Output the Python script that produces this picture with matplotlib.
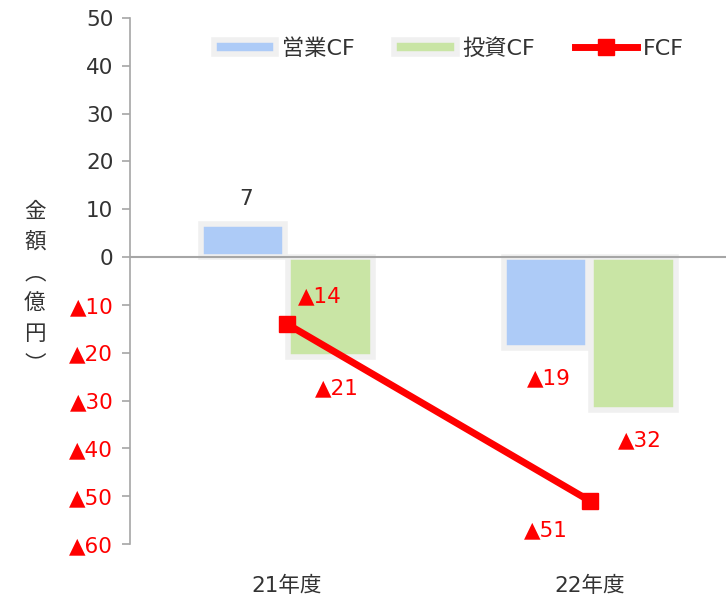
import matplotlib
matplotlib.use("Agg")
import matplotlib.pyplot as plt
import numpy as np

plt.rcParams['font.family'] = ['DejaVu Sans', 'Noto Sans CJK JP']

years = ["21年度", "22年度"]
eigyo_cf = [7, -19]
toshi_cf = [-21, -32]
fcf = [-14, -51]
yticks = [50, 40, 30, 20, 10, 0, -10, -20, -30, -40, -50, -60]


def fmt(v):
    return f"▲{abs(v)}" if v < 0 else f"{v}"


fig = plt.figure(figsize=(7.26, 5.95), dpi=100)
ax = fig.add_axes([0.179, 0.0857, 0.821, 0.8843])

x = np.arange(len(years))
w = 0.28
off = 0.145
edge = '#f0f0f0'
ax.bar(x - off, eigyo_cf, w, color='#adcbf7', edgecolor=edge, linewidth=4, label='営業CF', zorder=2)
ax.bar(x + off, toshi_cf, w, color='#c9e5a5', edgecolor=edge, linewidth=4, label='投資CF', zorder=2)
ax.plot(x, fcf, color='#ff0000', lw=5, marker='s', markersize=11, label='FCF', zorder=4)

ax.axhline(0, color='#a6a6a6', lw=1.5, zorder=3)

fs = 15.5
# data labels
for i, v in enumerate(eigyo_cf):
    dy = 18 if v > 0 else -22
    col = '#333333' if v > 0 else '#ff0000'
    ax.annotate(fmt(v), (x[i] - off, v), xytext=(2, dy), textcoords='offset points',
                ha='center', va='center', fontsize=fs, color=col)
for i, v in enumerate(toshi_cf):
    ax.annotate(fmt(v), (x[i] + off, v), xytext=(4, -22), textcoords='offset points',
                ha='center', va='center', fontsize=fs, color='#ff0000')
fcf_off = [(24, 20), (-32, -21)]
for i, v in enumerate(fcf):
    ax.annotate(fmt(v), (x[i], v), xytext=fcf_off[i], textcoords='offset points',
                ha='center', va='center', fontsize=fs, color='#ff0000')

ax.set_xlim(-0.518, 1.449)
ax.set_ylim(-60, 50)
ax.set_yticks(yticks)
ax.set_yticklabels([fmt(v) for v in yticks], fontsize=fs)
for lab, v in zip(ax.get_yticklabels(), yticks):
    lab.set_color('#ff0000' if v < 0 else '#333333')
ax.set_xticks(x)
ax.set_xticklabels(years, fontsize=fs, color='#333333')
ax.tick_params(axis='x', length=0, pad=23)
ax.tick_params(axis='y', length=6, color='#a6a6a6', width=1.2, pad=6)

for s in ['top', 'right', 'bottom']:
    ax.spines[s].set_visible(False)
ax.spines['left'].set_color('#a6a6a6')
ax.spines['left'].set_linewidth(1.2)

fig.text(0.048, 0.515, "金\n額\n︵\n億\n円\n︶", fontsize=15.5, color='#333333',
         ha='center', va='center', linespacing=1.5, family='Noto Sans CJK JP')

h, l = ax.get_legend_handles_labels()
order = [1, 2, 0]
ax.legend([h[i] for i in order], [l[i] for i in order],
          loc='upper center', bbox_to_anchor=(0.535, 1.0), ncol=3, frameon=False,
          fontsize=16, handlelength=2.8, handleheight=0.6, columnspacing=1.8,
          handletextpad=0.25, labelcolor='#333333')

fig.savefig('out.png', dpi=100)
